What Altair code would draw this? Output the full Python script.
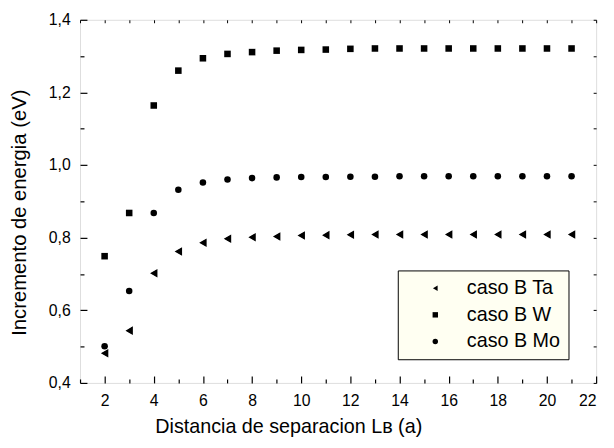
import altair as alt
import pandas as pd

x_vals = [2, 3, 4, 5, 6, 7, 8, 9, 10, 11, 12, 13, 14, 15, 16, 17, 18, 19, 20, 21]
ta = [0.482, 0.544, 0.702, 0.762, 0.786, 0.797, 0.801, 0.803, 0.806, 0.807,
      0.808, 0.809, 0.809, 0.809, 0.809, 0.809, 0.809, 0.809, 0.809, 0.809]
w = [0.749, 0.868, 1.164, 1.260, 1.294, 1.306, 1.311, 1.315, 1.317, 1.318,
     1.320, 1.321, 1.321, 1.321, 1.321, 1.321, 1.321, 1.321, 1.321, 1.321]
mo = [0.501, 0.653, 0.868, 0.932, 0.952, 0.960, 0.964, 0.966, 0.967, 0.967,
      0.968, 0.968, 0.969, 0.969, 0.969, 0.969, 0.969, 0.969, 0.969, 0.969]
series = ["caso B Ta", "caso B W", "caso B Mo"]
shapes = ["triangle-left", "square", "circle"]

x_major = [2, 4, 6, 8, 10, 12, 14, 16, 18, 20, 22]
x_all = list(range(1, 23))
y_major = [0.4, 0.6, 0.8, 1.0, 1.2, 1.4]
y_all = [0.4, 0.5, 0.6, 0.7, 0.8, 0.9, 1.0, 1.1, 1.2, 1.3, 1.4]

rows = []
for name, vals in zip(series, [ta, w, mo]):
    for xv, yv in zip(x_vals, vals):
        rows.append({"series": name, "x": xv, "y": yv})
df = pd.DataFrame(rows)

W, H = 523, 368
FONT = "Liberation Sans"
xscale = alt.Scale(domain=[1, 22], nice=False, zero=False)
yscale = alt.Scale(domain=[0.4, 1.4], nice=False, zero=False)

base = alt.Chart(df)

pts = base.mark_point(filled=True, opacity=1, color="black", size=44).encode(
    x=alt.X("x:Q", scale=xscale, axis=alt.Axis(
        orient="bottom", values=x_major, ticks=False, tickSize=0, domain=False,
        grid=False, labelFont=FONT, labelFontSize=16, labelColor="black",
        labelPadding=10, title="Distancia de separacion Lʙ (a)",
        titleFont=FONT, titleFontSize=20, titleFontWeight="normal",
        titleColor="black", titleX=211, titleY=50, titleAlign="center",
        titleBaseline="alphabetic")),
    y=alt.Y("y:Q", scale=yscale, axis=alt.Axis(
        orient="left", values=y_major, ticks=False, tickSize=0, domain=False,
        grid=False, labelFont=FONT, labelFontSize=16, labelColor="black",
        labelPadding=10,
        labelExpr="replace(format(datum.value, '.1f'), '.', ',')",
        title="Incremento de energia (eV)", titleFont=FONT, titleFontSize=20.5,
        titleFontWeight="normal", titleColor="black", titleAngle=270,
        titleX=-55, titleY=195, titleAlign="center",
        titleBaseline="alphabetic")),
    shape=alt.Shape("series:N", scale=alt.Scale(domain=series, range=shapes),
                    legend=alt.Legend(
                        title=None, orient="none", legendX=322, legendY=254,
                        fillColor="#fffff2", strokeColor="black", padding=8,
                        labelFont=FONT, labelFontSize=20, labelColor="black",
                        symbolSize=30, symbolFillColor="black",
                        symbolStrokeColor="black", symbolOffset=20,
                        labelOffset=22, rowPadding=7)),
)

tri = base.transform_filter(alt.datum.series == series[0]).mark_point(
    filled=True, opacity=1, color="black", size=75, shape="triangle-left"
).encode(x=alt.X("x:Q", scale=xscale, axis=None),
         y=alt.Y("y:Q", scale=yscale, axis=None))

x_cond_big = {"condition": {"test": "datum.value % 2 == 0", "value": 7}, "value": 4}
y_cond_big = {"condition": {"test": "round(datum.value * 10) % 2 == 0", "value": 7}, "value": 4}

inner1 = base.mark_point(opacity=0).encode(
    x=alt.X("x:Q", scale=xscale, axis=alt.Axis(
        orient="top", offset=-H, values=x_all, labels=False, domain=False,
        grid=False, title=None, tickColor="black", tickWidth=1.2,
        tickSize=x_cond_big)),
    y=alt.Y("y:Q", scale=yscale, axis=alt.Axis(
        orient="right", offset=-W, values=y_all, labels=False, domain=False,
        grid=False, title=None, tickColor="black", tickWidth=1.2,
        tickSize=y_cond_big)),
)

inner2 = base.mark_point(opacity=0).encode(
    x=alt.X("x:Q", scale=xscale, axis=alt.Axis(
        orient="bottom", offset=-H, values=x_all, labels=False, domain=False,
        grid=False, title=None, tickColor="black", tickWidth=1, tickSize=3)),
    y=alt.Y("y:Q", scale=yscale, axis=alt.Axis(
        orient="left", offset=-W, values=y_all, labels=False, domain=False,
        grid=False, title=None, tickColor="black", tickWidth=1, tickSize=3)),
)

chart = alt.layer(pts, tri, inner1, inner2).resolve_axis(
    x="independent", y="independent"
).properties(
    width=W, height=H,
    padding={"left": 73, "top": 9, "right": 10, "bottom": 63},
    autosize=alt.AutoSizeParams(type="none"),
).configure_view(stroke="black", strokeWidth=1.3).configure(font=FONT, background="white")

chart.save("out.html", embed_options={"renderer": "svg", "actions": False})
